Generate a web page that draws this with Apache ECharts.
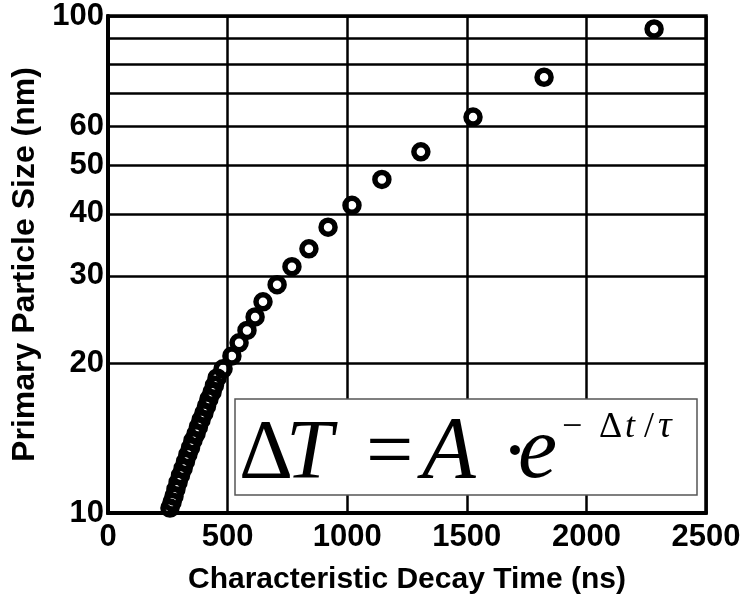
<!DOCTYPE html>
<html><head><meta charset="utf-8">
<script src="https://cdn.jsdelivr.net/npm/echarts@6/dist/echarts.min.js"></script>
<style>html,body{margin:0;padding:0;background:#fff}#c{width:744px;height:600px}</style>
</head><body><div id="c"></div>
<script>
// Characteristic decay time (ns)
const decayTime = [2283, 1823, 1526, 1308, 1145, 1020, 920, 840, 769, 707, 648, 615, 581, 548, 518, 481, 456,
  445, 435, 422, 412, 401, 389, 378, 368, 355, 345, 334, 324, 314, 303, 293, 284, 276, 268, 259];
// Primary particle size (nm)
const particleSize = [94.2, 75.3, 62.6, 53.3, 46.9, 41.6, 37.6, 34.0, 31.3, 28.8, 26.6, 24.8, 23.3, 22.0, 20.7, 19.5, 18.7,
  18.07, 17.50, 16.95, 16.41, 15.89, 15.39, 14.90, 14.43, 13.98, 13.53, 13.11, 12.69, 12.29, 11.90, 11.53, 11.16, 10.81, 10.52, 10.23];
const yLabelValues = [10, 20, 30, 40, 50, 60, 100];
const yGridValues = [10, 20, 30, 40, 50, 60, 70, 80, 90, 100];

const points = decayTime.map((t, i) => [t, particleSize[i]]);
const chart = echarts.init(document.getElementById('c'), null, {renderer: 'canvas'});
const sans = 'Liberation Sans, Arial, sans-serif';
const axisFont = {fontFamily: sans, fontWeight: 'bold', fontSize: 31, color: '#000'};
const serif = 'Liberation Serif, Times New Roman, serif';
function txt(x, y, s, style, size) {
  return {type: 'text', z: 11, x: x, y: y,
    style: {text: s, font: style + ' ' + size + 'px ' + serif, fill: '#000', verticalAlign: 'bottom'}};
}
chart.setOption({
  animation: false,
  backgroundColor: '#fff',
  grid: {left: 108, right: 38, top: 16, bottom: 82, show: true, borderColor: '#000', borderWidth: 3.5, backgroundColor: 'transparent'},
  xAxis: {
    type: 'value', min: 0, max: 2500, interval: 500,
    name: 'Characteristic Decay Time (ns)', nameLocation: 'middle', nameGap: 52,
    nameTextStyle: {fontFamily: sans, fontWeight: 'bold', fontSize: 30, color: '#000'},
    axisLine: {show: true, lineStyle: {color: '#000', width: 4}},
    axisTick: {show: false},
    axisLabel: Object.assign({margin: 9, formatter: v => String(v)}, axisFont),
    splitLine: {show: true, lineStyle: {color: '#000', width: 2.5}}
  },
  yAxis: {
    type: 'log', logBase: 10, min: 10, max: 100,
    name: 'Primary Particle Size (nm)', nameLocation: 'middle', nameGap: 63,
    nameTextStyle: {fontFamily: sans, fontWeight: 'bold', fontSize: 32, color: '#000'},
    axisLine: {show: true, lineStyle: {color: '#000', width: 4}},
    axisTick: {show: false, customValues: yGridValues},
    axisLabel: Object.assign({margin: 4, customValues: yLabelValues, formatter: v => String(v)}, axisFont),
    splitLine: {show: true, lineStyle: {color: '#000', width: 2.5}}
  },
  series: [{
    type: 'scatter', data: points, symbol: 'circle', symbolSize: 14,
    itemStyle: {color: 'rgba(0,0,0,0)', borderColor: '#000', borderWidth: 5.5, opacity: 1},
    z: 5
  }],
  graphic: [
    {type: 'rect', z: 10, shape: {x: 235, y: 399, width: 462, height: 96},
      style: {fill: '#fff', stroke: '#555', lineWidth: 1.5}},
    txt(239, 498, 'Δ', 'normal', 84),
    txt(286, 498, 'T', 'italic', 84),
    txt(366, 498, '=', 'normal', 84),
    txt(422, 498, 'A', 'italic', 88),
    txt(501, 498, '·', 'normal', 84),
    txt(518, 498, 'e', 'italic', 88),
    txt(562, 446, '−', 'normal', 36),
    txt(599, 446, 'Δ', 'normal', 36),
    txt(625, 446, 't', 'italic', 36),
    txt(644, 446, '/', 'normal', 36),
    txt(658, 446, 'τ', 'italic', 38)
  ]
});
</script></body></html>
